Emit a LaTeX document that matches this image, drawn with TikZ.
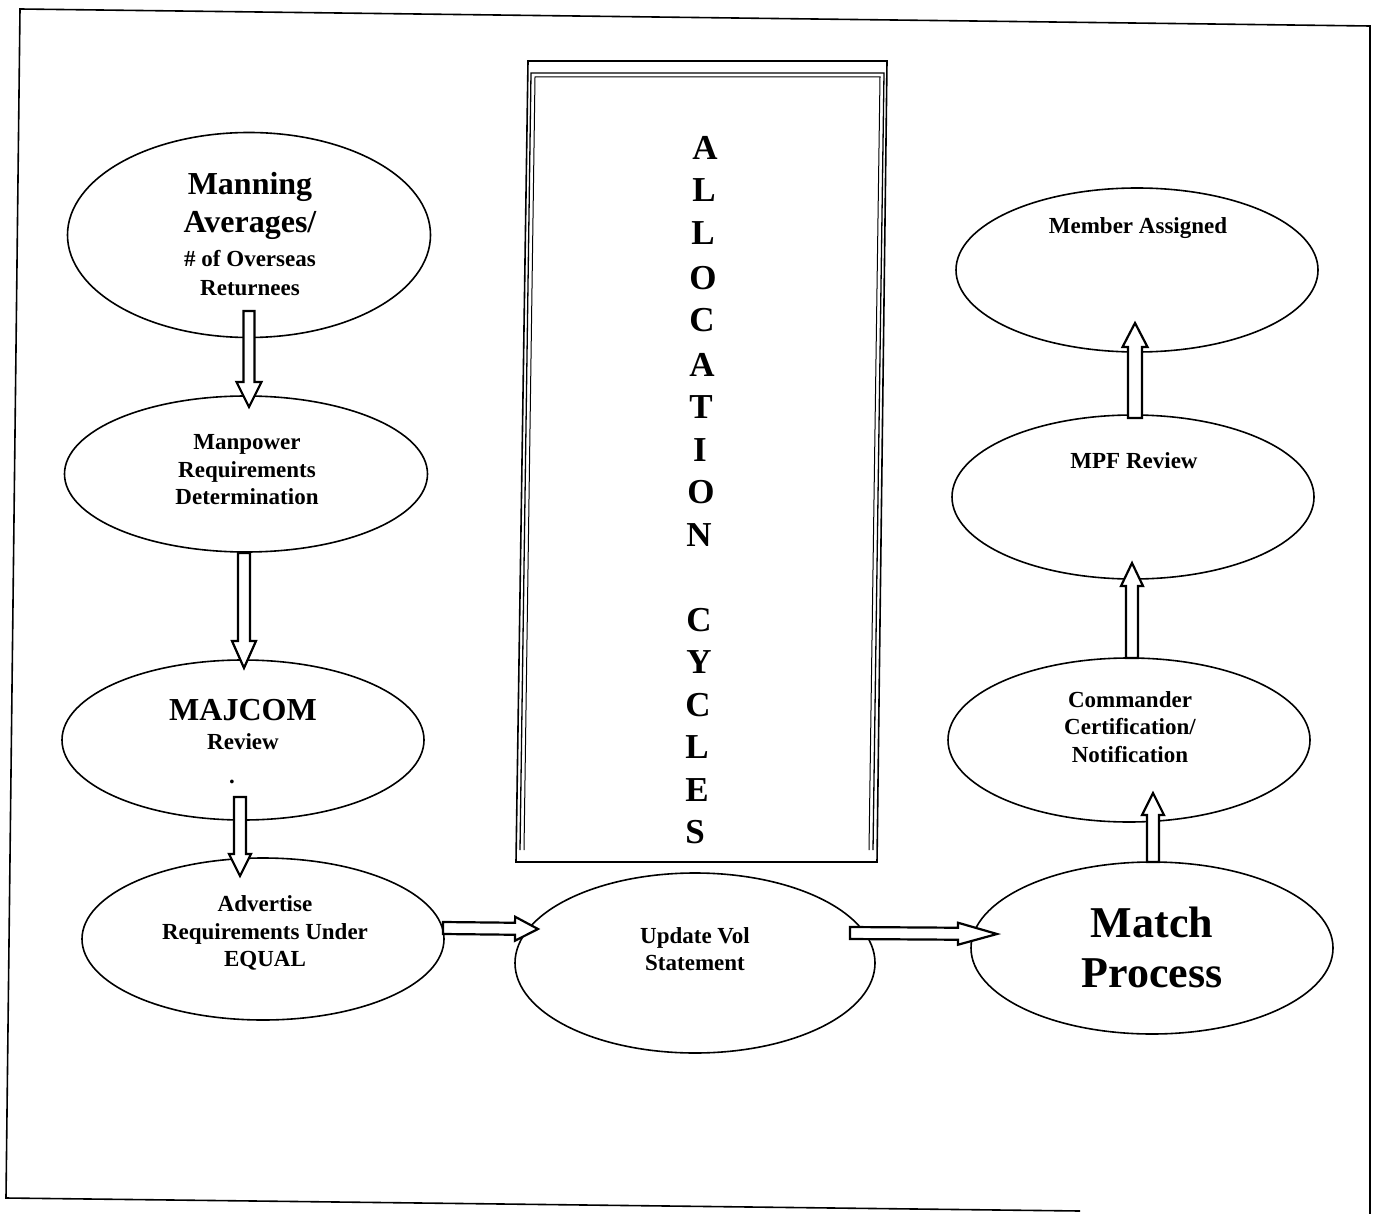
\documentclass[tikz,border=0pt]{standalone}
\usepackage{fontspec}
\setmainfont{Liberation Serif}
\usetikzlibrary{shapes.geometric,calc}
\newcommand{\blockarr}[5]{% start, end, shaft half-width, head half-width, head length
  \coordinate (hb) at ($(#2)!#5!(#1)$);
  \draw[barr] ($(#1)!#3!90:(#2)$) -- ($(hb)!#3!90:(#2)$) -- ($(hb)!#4!90:(#2)$) -- (#2)
     -- ($(hb)!#4!-90:(#2)$) -- ($(hb)!#3!-90:(#2)$) -- ($(#1)!#3!-90:(#2)$) -- cycle;}
\begin{document}
\begin{tikzpicture}[x=1pt,y=-1pt,
  oval/.style={ellipse,draw,line width=1.6pt,inner sep=0pt},
  lbl/.style={font=\bfseries\fontsize{23}{27.5}\selectfont,align=center,inner sep=0pt},
  bigtxt/.style={font=\bfseries\fontsize{32}{38}\selectfont,align=center,inner sep=0pt},
  hugetxt/.style={font=\bfseries\fontsize{44}{50}\selectfont,align=center,inner sep=0pt},
  letter/.style={font=\bfseries\fontsize{35}{35}\selectfont,inner sep=0pt},
  barr/.style={draw,fill=white,line width=2.2pt,line join=miter},
  frame/.style={line width=1.6pt}
]
\useasboundingbox (0,0) rectangle (1375,1214);

% outer frame
\draw[frame] (1080,1211) -- (6,1198) -- (20,9) -- (1370,26) -- (1370,1214);

% central box
\draw[line width=1.6pt] (528,61) -- (887,61) -- (877,862) -- (516,862) -- cycle;
\draw[line width=1.3pt] (520,850) -- (531,73) -- (884,73) -- (873,850);
\draw[line width=1pt] (524,850) -- (535,77) -- (880,77) -- (869,850);

% letters
\foreach \ch/\px/\py in {A/705/148,L/704/190,L/703/233,O/703/278,C/702/320,A/702/365,T/701/407,I/700/450,O/701/492,N/699/535,C/699/620,Y/699/662,C/698/705,L/697/747,E/697/790,S/695/832}
  \node[letter] at (\px,\py) {\ch};

% ellipses
\node[oval,minimum width=363pt,minimum height=205pt] (man) at (249,235) {};
\node[oval,minimum width=363pt,minimum height=156pt] (mpw) at (246,474) {};
\node[oval,minimum width=362pt,minimum height=160pt] (maj) at (243,740) {};
\node[oval,minimum width=362pt,minimum height=162pt] (adv) at (263,939) {};
\node[oval,minimum width=360pt,minimum height=180pt] (upd) at (695,963) {};
\node[oval,minimum width=362pt,minimum height=172pt] (mat) at (1152,948) {};
\node[oval,minimum width=362pt,minimum height=164pt] (cmd) at (1129,740) {};
\node[oval,minimum width=362pt,minimum height=164pt] (mpf) at (1133,497) {};
\node[oval,minimum width=362pt,minimum height=164pt] (mem) at (1137,270) {};

% texts
\node[bigtxt] (t1a) at (250,206) {Manning\\Averages/};
\node[lbl,font=\bfseries\fontsize{23}{29}\selectfont] (t1b) at (250,273) {\# of Overseas\\Returnees};
\node[lbl] (t2) at (247,470) {Manpower\\Requirements\\Determination};
\node[bigtxt] (t3a) at (243,710) {MAJCOM};
\node[lbl] (t3b) at (243,742) {Review};
\node[lbl] (dot) at (232,782) {.};
\node[lbl] (t4) at (265,933) {Advertise\\Requirements Under\\EQUAL};
\node[lbl] (t5) at (695,949) {Update Vol\\Statement};
\node[hugetxt] (t6) at (1152,947) {Match\\Process};
\node[lbl] (t7) at (1130,727) {Commander\\Certification/\\Notification};
\node[lbl] (t8) at (1134,461) {MPF Review};
\node[lbl] (t9) at (1138,228) {Member Assigned};

% arrow end points
\coordinate (a1s) at (249,311); \coordinate (a1e) at (249,407);
\coordinate (a2s) at (244,553); \coordinate (a2e) at (244,668);
\coordinate (a3s) at (240,797); \coordinate (a3e) at (240,876);
\coordinate (a4s) at (443,928); \coordinate (a4e) at (538,929);
\coordinate (a5s) at (850,933); \coordinate (a5e) at (997,934);
\coordinate (a6s) at (1153,862); \coordinate (a6e) at (1153,793);
\coordinate (a7s) at (1132,658); \coordinate (a7e) at (1132,563);
\coordinate (a8s) at (1135,418); \coordinate (a8e) at (1135,323);

\blockarr{a1s}{a1e}{5.5pt}{12.5pt}{25pt}
\blockarr{a2s}{a2e}{6pt}{12pt}{27pt}
\blockarr{a3s}{a3e}{6pt}{11pt}{22pt}
\blockarr{a4s}{a4e}{6pt}{12pt}{23pt}
\blockarr{a5s}{a5e}{6pt}{11pt}{39pt}
\blockarr{a6s}{a6e}{6pt}{11pt}{22pt}
\blockarr{a7s}{a7e}{6pt}{11pt}{23pt}
\blockarr{a8s}{a8e}{7pt}{12.5pt}{24pt}
\end{tikzpicture}
\end{document}
